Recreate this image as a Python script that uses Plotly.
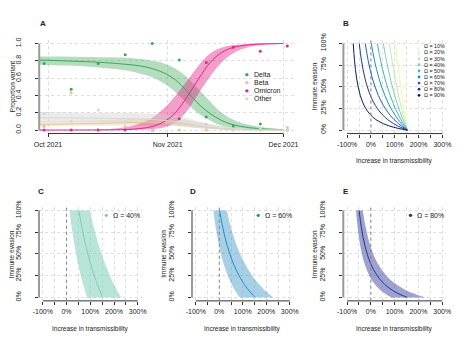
import plotly.graph_objects as go

W, H = 468, 343
FONT = "Liberation Sans, Arial, sans-serif"

# ---------------- Panel A: variant proportions over time ----------------
obs_dates = ["2021-09-30", "2021-10-07", "2021-10-14", "2021-10-21", "2021-10-28",
             "2021-11-04", "2021-11-11", "2021-11-18", "2021-11-25", "2021-12-02"]
delta_obs = [0.77, 0.47, 0.77, 0.87, 1.00, 0.81, 0.15, 0.045, 0.07, 0.00]
beta_obs = [0.04, 0.43, 0.00, 0.04, 0.00, 0.00, 0.00, 0.00, 0.00, 0.03]
omicron_obs = [0.00, 0.00, 0.00, 0.00, 0.00, 0.13, 0.78, 0.955, 0.91, 0.97]
other_obs = [0.19, 0.10, 0.23, 0.09, 0.00, 0.06, 0.07, 0.00, 0.02, 0.00]

fit_dates = ["2021-09-28 17:00", "2021-10-05", "2021-10-11", "2021-10-17", "2021-10-21",
             "2021-10-25", "2021-10-28", "2021-10-31", "2021-11-03", "2021-11-06",
             "2021-11-09", "2021-11-12", "2021-11-15", "2021-11-18", "2021-11-22",
             "2021-11-26", "2021-12-01"]
delta_fit = [0.808, 0.80, 0.79, 0.775, 0.76, 0.74, 0.71, 0.66, 0.58, 0.45,
             0.30, 0.19, 0.11, 0.06, 0.028, 0.012, 0.004]
delta_lo = [0.755, 0.745, 0.735, 0.71, 0.69, 0.65, 0.61, 0.54, 0.44, 0.31,
            0.19, 0.11, 0.05, 0.025, 0.01, 0.004, 0.0008]
delta_hi = [0.85, 0.85, 0.845, 0.84, 0.835, 0.82, 0.80, 0.77, 0.71, 0.61,
            0.47, 0.33, 0.20, 0.12, 0.06, 0.03, 0.01]
beta_fit = [0.065, 0.07, 0.075, 0.08, 0.085, 0.088, 0.09, 0.088, 0.08, 0.065,
            0.045, 0.028, 0.015, 0.008, 0.003, 0.001, 0.0003]
beta_lo = [0.04, 0.045, 0.048, 0.05, 0.053, 0.055, 0.056, 0.053, 0.046, 0.034,
           0.021, 0.011, 0.005, 0.002, 0.0007, 0.0002, 0.0]
beta_hi = [0.10, 0.105, 0.11, 0.12, 0.125, 0.13, 0.135, 0.135, 0.13, 0.115,
           0.09, 0.065, 0.04, 0.025, 0.011, 0.005, 0.001]
omicron_fit = [0.0, 0.0, 0.0003, 0.0017, 0.0054, 0.0175, 0.041, 0.094, 0.20, 0.38,
               0.59, 0.78, 0.896, 0.954, 0.985, 0.995, 0.999]
omicron_lo = [0.0, 0.0, 0.0, 0.0002, 0.0009, 0.0038, 0.011, 0.032, 0.088, 0.221,
              0.423, 0.618, 0.783, 0.888, 0.958, 0.985, 0.996]
omicron_hi = [0.0002, 0.0009, 0.0033, 0.013, 0.032, 0.077, 0.142, 0.248, 0.397, 0.565,
              0.745, 0.885, 0.953, 0.982, 0.995, 0.9986, 1.0]
other_fit = [0.14, 0.14, 0.138, 0.135, 0.132, 0.128, 0.122, 0.112, 0.095, 0.072,
             0.048, 0.029, 0.016, 0.008, 0.003, 0.001, 0.0003]
other_lo = [0.09, 0.095, 0.095, 0.09, 0.088, 0.084, 0.078, 0.068, 0.053, 0.036,
            0.021, 0.011, 0.005, 0.002, 0.0007, 0.0002, 0.0]
other_hi = [0.21, 0.205, 0.20, 0.20, 0.20, 0.195, 0.19, 0.18, 0.165, 0.135,
            0.10, 0.07, 0.045, 0.027, 0.012, 0.005, 0.001]

variant_names = ["Delta", "Beta", "Omicron", "Other"]
variant_line = ["#3fa45b", "#e3c59b", "#e0278a", "#d6d6d6"]
variant_band = ["rgba(65,171,93,0.40)", "rgba(230,199,156,0.40)",
                "rgba(231,41,138,0.45)", "rgba(205,205,205,0.40)"]
date_ticks = ["2021-10-01", "2021-11-01", "2021-12-01"]
date_labels = ["Oct 2021", "Nov 2021", "Dec 2021"]

# ---------------- Panels B-E: evasion vs transmissibility ----------------
evasion_pct = [0, 2, 5, 10, 15, 25, 40, 60, 80, 100]
omega_pct = [10, 20, 30, 40, 50, 60, 70, 80, 90]
trans_o10 = [153.0, 152.4, 151.6, 150.2, 148.9, 146.2, 142.2, 137.2, 132.3, 127.7]
trans_o20 = [153.0, 151.7, 149.9, 146.8, 143.9, 138.1, 130.0, 120.0, 110.8, 102.4]
trans_o30 = [153.0, 150.9, 147.7, 142.6, 137.7, 128.5, 116.0, 101.3, 88.4, 77.1]
trans_o40 = [153.0, 149.7, 144.8, 137.2, 130.0, 116.9, 99.7, 80.7, 65.0, 51.8]
trans_o50 = [153.0, 148.0, 141.0, 130.0, 120.0, 102.4, 80.7, 58.1, 40.6, 26.5]
trans_o60 = [153.0, 145.6, 135.3, 120.0, 106.5, 84.0, 58.1, 33.2, 15.0, 1.2]
trans_o70 = [153.0, 141.7, 126.6, 105.1, 87.4, 59.8, 30.9, 5.4, -11.7, -24.1]
trans_o80 = [153.0, 134.3, 110.8, 80.7, 58.1, 26.5, -2.7, -25.6, -39.8, -49.4]
trans_o90 = [153.0, 114.4, 74.5, 33.2, 7.7, -22.2, -45.0, -60.5, -69.1, -74.7]
# uncertainty limits for the highlighted Omega values
o40_lo = [87.0, 84.5, 81.0, 75.3, 70.0, 60.3, 47.6, 33.6, 22.0, 12.2]
o40_hi = [230.0, 225.7, 219.4, 209.4, 200.0, 182.9, 160.5, 135.7, 115.2, 98.0]
o60_lo = [87.0, 81.6, 74.0, 62.6, 52.7, 36.0, 16.9, -1.6, -15.0, -25.2]
o60_hi = [230.0, 220.4, 207.0, 187.0, 169.4, 140.0, 106.3, 73.7, 50.0, 32.0]
o80_lo = [87.0, 73.1, 55.8, 33.6, 16.9, -6.5, -28.1, -45.0, -55.5, -62.6]
o80_hi = [230.0, 205.6, 175.0, 135.7, 106.3, 65.0, 26.9, -2.9, -21.4, -34.0]

ylgnbu = ["#FFFFD9", "#EDF8B1", "#C7E9B4", "#7FCDBB", "#41B6C4",
          "#1D91C0", "#225EA8", "#253494", "#081D58"]
trans_curves = [trans_o10, trans_o20, trans_o30, trans_o40, trans_o50,
                trans_o60, trans_o70, trans_o80, trans_o90]
x_ticks = [-100, -50, 0, 50, 100, 150, 200, 250, 300]
x_ticktext = ["-100%", "", "0%", "", "100%", "", "200%", "", "300%"]
y_ticks = [0, 25, 50, 75, 100]
y_ticktext = ["0%", "25%", "50%", "75%", "100%"]


def fx(px):
    return px / W


def fy(py):
    return 1 - py / H


fig = go.Figure()

# Panel A bands, lines, points
fits = [(delta_fit, delta_lo, delta_hi), (beta_fit, beta_lo, beta_hi),
        (omicron_fit, omicron_lo, omicron_hi), (other_fit, other_lo, other_hi)]
obs = [delta_obs, beta_obs, omicron_obs, other_obs]
for (fit, lo, hi), band in zip(fits, variant_band):
    fig.add_trace(go.Scatter(x=fit_dates, y=lo, mode="lines", line=dict(width=0, shape="spline"),
                             xaxis="x", yaxis="y", showlegend=False, hoverinfo="skip"))
    fig.add_trace(go.Scatter(x=fit_dates, y=hi, mode="lines", line=dict(width=0, shape="spline"),
                             fill="tonexty", fillcolor=band, xaxis="x", yaxis="y",
                             showlegend=False, hoverinfo="skip"))
for (fit, lo, hi), col in zip(fits, variant_line):
    fig.add_trace(go.Scatter(x=fit_dates, y=fit, mode="lines",
                             line=dict(width=1, color=col, shape="spline"),
                             xaxis="x", yaxis="y", showlegend=False))
for vals, col in zip(obs, variant_line):
    fig.add_trace(go.Scatter(x=obs_dates, y=vals, mode="markers",
                             marker=dict(size=3, color=col), xaxis="x", yaxis="y",
                             showlegend=False))

# Panel B: all Omega curves
for curve, col in zip(trans_curves, ylgnbu):
    fig.add_trace(go.Scatter(x=curve, y=evasion_pct, mode="lines",
                             line=dict(width=1, color=col, shape="spline"),
                             xaxis="x2", yaxis="y2", showlegend=False))

# Panels C-E: single Omega with uncertainty
panel_sets = [("x3", "y3", o40_lo, o40_hi, trans_o40, "#7FCDBB", "rgba(127,205,187,0.55)"),
              ("x4", "y4", o60_lo, o60_hi, trans_o60, "#1D91C0", "rgba(60,150,200,0.45)"),
              ("x5", "y5", o80_lo, o80_hi, trans_o80, "#253494", "rgba(60,70,160,0.50)")]
for xa, ya, lo, hi, mid, col, band in panel_sets:
    fig.add_trace(go.Scatter(x=lo, y=evasion_pct, mode="lines", line=dict(width=0, shape="spline"),
                             xaxis=xa, yaxis=ya, showlegend=False, hoverinfo="skip"))
    fig.add_trace(go.Scatter(x=hi, y=evasion_pct, mode="lines", line=dict(width=0, shape="spline"),
                             fill="tonextx", fillcolor=band, xaxis=xa, yaxis=ya,
                             showlegend=False, hoverinfo="skip"))
    fig.add_trace(go.Scatter(x=mid, y=evasion_pct, mode="lines",
                             line=dict(width=1, color=col, shape="spline"),
                             xaxis=xa, yaxis=ya, showlegend=False))

tick_font = dict(family=FONT, size=7, color="#222")
grid = dict(showgrid=True, gridcolor="#dedede", griddash="dot", gridwidth=1,
            zeroline=False, showline=False, ticks="outside", ticklen=3,
            tickwidth=1, tickcolor="#333", tickfont=tick_font)

layout_axes = {}
# Panel A axes
layout_axes["xaxis"] = dict(domain=[fx(34), fx(296)], range=["2021-09-28 17:17", "2021-12-04"],
                            type="date", tickvals=date_ticks, ticktext=date_labels,
                            anchor="y", ticklabelstandoff=1, **grid)
layout_axes["yaxis"] = dict(domain=[fy(129.5), fy(33.8)], range=[-0.04, 1.04],
                            tickvals=[0, 0.2, 0.4, 0.6, 0.8, 1.0],
                            ticktext=["0.0", "0.2", "0.4", "0.6", "0.8", "1.0"],
                            tickangle=-90, anchor="x", ticklabelstandoff=11, **grid)

pct_panels = {2: (345.5, 450.8, 33.7, 129.6), 3: (33.8, 138.8, 204.7, 300.9),
              4: (190.5, 294.5, 204.7, 300.9), 5: (345.4, 450.6, 204.7, 300.9)}
for k, (x0, x1, y0, y1) in pct_panels.items():
    layout_axes[f"xaxis{k}"] = dict(domain=[fx(x0), fx(x1)], range=[-116, 316],
                                    tickvals=x_ticks, ticktext=x_ticktext,
                                    anchor=f"y{k}", ticklabelstandoff=1, **grid)
    layout_axes[f"yaxis{k}"] = dict(domain=[fy(y1), fy(y0)], range=[-4, 104],
                                    tickvals=y_ticks, ticktext=y_ticktext, tickangle=-90,
                                    anchor=f"x{k}", ticklabelstandoff=11, **grid)

shapes = []
# axis lines, R style
shapes.append(dict(type="line", xref="x domain", yref="y", x0=0, x1=0, y0=0, y1=1,
                   line=dict(color="#9a9a9a", width=2)))
shapes.append(dict(type="line", xref="x", yref="y domain", x0=date_ticks[0], x1=date_ticks[-1],
                   y0=0, y1=0, line=dict(color="#333", width=1)))
for k in pct_panels:
    shapes.append(dict(type="line", xref=f"x{k} domain", yref=f"y{k}", x0=0, x1=0, y0=0, y1=100,
                       line=dict(color="#9a9a9a", width=2)))
    shapes.append(dict(type="line", xref=f"x{k}", yref=f"y{k} domain", x0=-100, x1=300,
                       y0=0, y1=0, line=dict(color="#333", width=1)))
    # reference line at zero transmissibility change
    shapes.append(dict(type="line", xref=f"x{k}", yref=f"y{k} domain", x0=0, x1=0,
                       y0=0, y1=1, line=dict(color="#888", width=1, dash="dot")))

annotations = []


def label(text, px, py, size=7, anchor="center", angle=0, color="#222"):
    annotations.append(dict(text=text, x=fx(px), y=fy(py), xref="paper", yref="paper",
                            showarrow=False, xanchor=anchor, yanchor="middle",
                            textangle=angle, font=dict(family=FONT, size=size, color=color)))


def dot(px, py, col, r=1.7):
    shapes.append(dict(type="circle", xref="paper", yref="paper",
                       x0=fx(px - r), x1=fx(px + r), y0=fy(py + r), y1=fy(py - r),
                       fillcolor=col, line=dict(width=0)))


# panel letters
for t, px, py in [("A", 37.5, 17.3), ("B", 348, 17.3), ("C", 35.5, 189),
                  ("D", 192, 189), ("E", 348, 189)]:
    label(f"<b>{t}</b>", px, py, size=8)

# axis titles
label("Proportion variant", 6.5, 81.7, size=6.5, angle=-90)
for px, py in [(316, 81.7), (6.5, 252.8), (161.7, 252.8), (316.7, 252.8)]:
    label("Immune evasion", px, py, size=6.5, angle=-90)
for px, py in [(398, 157.5), (86.5, 330), (242.5, 330), (398, 330)]:
    label("Increase in transmissibility", px, py, size=6.5)

# legend of panel A
for i, (name, col) in enumerate(zip(variant_names, variant_line)):
    py = 69.3 + i * 8.25
    dot(246.7, py, col)
    label(name, 251.5, py, size=7, anchor="left")

# legend of panel B
for i, (om, col) in enumerate(zip(omega_pct, ylgnbu)):
    py = 40.2 + i * 6.28
    dot(423, py, col, r=1.4)
    label(f"Ω = {om}%", 425.8, py, size=5.3, anchor="left")

# legends of panels C-E
for (px, py), om, col in zip([(102.7, 213.3), (258.3, 213.3), (414.3, 213.3)],
                             [40, 60, 80], ["#7FCDBB", "#1D91C0", "#253494"]):
    dot(px, py, col)
    label(f"Ω = {om}%", px + 4.5, py, size=7, anchor="left")

fig.update_layout(width=W, height=H, margin=dict(l=0, r=0, t=0, b=0),
                  paper_bgcolor="white", plot_bgcolor="white",
                  showlegend=False, shapes=shapes, annotations=annotations,
                  font=dict(family=FONT), **layout_axes)

fig.write_html("out.html")
